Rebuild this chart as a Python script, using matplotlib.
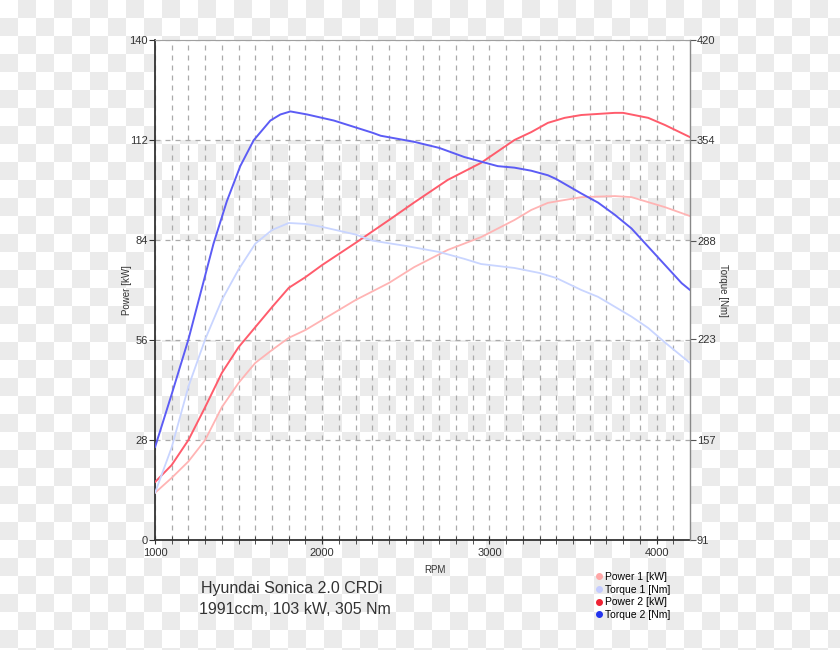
import numpy as np
import matplotlib
matplotlib.use("Agg")
import matplotlib.pyplot as plt
from matplotlib.colors import ListedColormap
from matplotlib.lines import Line2D

plt.rcParams['font.family'] = ['Liberation Sans', 'DejaVu Sans']

# -------------------------------
# Data
# -------------------------------

rpm_p1 = [1000, 1100, 1200, 1300, 1400, 1500, 1600, 1700, 1800, 1900, 2000, 2200, 2400,
          2550, 2750, 2950, 3150, 3250, 3350, 3450, 3550, 3750, 3850, 3950, 4050, 4200]
power1 = [13.2, 17.4, 22.0, 28.0, 37.2, 44.0, 49.6, 53.2, 56.6, 58.8, 61.6, 67.2, 72.0,
          76.4, 81.2, 84.8, 89.6, 92.4, 94.4, 95.2, 96.0, 96.3, 96.0, 94.6, 93.2, 90.7]

rpm_p2 = [1000, 1100, 1200, 1300, 1400, 1500, 1600, 1700, 1800, 1900, 2000, 2200, 2400,
          2550, 2750, 2950, 3150, 3250, 3350, 3450, 3550, 3750, 3800, 3950, 4050, 4200]
power2 = [16.2, 21.0, 28.0, 37.2, 46.8, 54.0, 59.6, 65.2, 70.6, 73.6, 77.0, 83.2, 89.6,
          94.5, 100.8, 105.6, 112.0, 114.2, 116.8, 118.2, 119.0, 119.6, 119.6, 118.2, 116.2, 112.8]

rpm_t1 = [1000, 1100, 1200, 1300, 1400, 1500, 1600, 1700, 1800, 1900, 2000, 2200, 2300,
          2500, 2700, 2850, 2950, 3150, 3300, 3400, 3550, 3650, 3850, 3950, 4050, 4200]
torque1 = [122, 152, 192, 223, 249, 269, 286, 295, 299.6, 299, 297, 292, 288,
           284.5, 280.5, 276, 272.6, 270, 266.7, 263.4, 255.5, 251, 238, 230.5, 221, 207.5]

rpm_t2 = [1000, 1100, 1200, 1350, 1430, 1510, 1590, 1690, 1750, 1810, 1910, 2070, 2300,
          2350, 2550, 2700, 2850, 2950, 3050, 3150, 3250, 3350, 3400, 3550, 3650, 3750,
          3850, 3950, 4050, 4150, 4200]
torque2 = [152, 187, 223, 286, 314, 337, 354, 367, 371, 373, 371, 367, 359,
           357, 353, 349, 343, 340, 337, 336, 334, 331, 328.5, 319, 313, 305,
           296, 284, 272, 260, 255.5]

power_ticks = [0, 28, 56, 84, 112, 140]
torque_ticks = [91, 157, 223, 288, 354, 420]
rpm_ticks = [1000, 2000, 3000, 4000]

labels = ['Power 1 [kW]', 'Torque 1 [Nm]', 'Power 2 [kW]', 'Torque 2 [Nm]']
line_colors = ['#ffb4b4', '#c9d5ff', '#ff5c6c', '#5c5cf5']
dot_colors = ['#ffa6a6', '#c4ccff', '#ee2233', '#2233ee']

# -------------------------------
# Figure + checkerboard backdrop
# -------------------------------

fig = plt.figure(figsize=(8.4, 6.5), dpi=100)

bg = fig.add_axes([0, 0, 1, 1], zorder=-10)
yy, xx = np.mgrid[0:650, 0:840]
checker = ((yy // 18) + (xx // 18)) % 2
bg.imshow(checker, cmap=ListedColormap(['#ffffff', '#ebebeb']), aspect='auto',
          interpolation='nearest', extent=(0, 840, 650, 0))
bg.axis('off')

ax = fig.add_axes([155 / 840, 110 / 650, 535 / 840, 500 / 650])
ax.set_facecolor('none')

# white bands inside the plot
for lo in [0, 56, 112]:
    ax.axhspan(lo, lo + 28, color='white', zorder=0, lw=0)

line_kw = dict(solid_joinstyle='round', solid_capstyle='round', zorder=3)
ax.plot(rpm_p1, power1, color=line_colors[0], lw=1.3, **line_kw)
ax.plot(rpm_p2, power2, color=line_colors[2], lw=1.4, **line_kw)

ax.set_xlim(1000, 4200)
ax.set_ylim(0, 140)
ax.set_xticks(rpm_ticks)
ax.set_xticks(np.arange(1100, 4200, 100), minor=True)
ax.set_yticks(power_ticks)

grid_style = dict(color='#aaaaaa', lw=0.9, ls=(0, (4, 4)))
ax.grid(True, which='both', axis='x', **grid_style)
ax.grid(True, which='major', axis='y', **grid_style)
ax.set_axisbelow(True)

for side in ['left', 'bottom']:
    ax.spines[side].set_color('#333333')
    ax.spines[side].set_linewidth(1.3)
ax.spines['top'].set_color('#a0a0a0')
ax.spines['top'].set_linewidth(0.8)
ax.spines['right'].set_visible(False)

ax.tick_params(axis='y', direction='out', length=4, color='#333333',
               labelsize=8, labelcolor='#333333', pad=1)
ax.tick_params(axis='x', which='both', direction='inout', length=6, color='#333333',
               labelsize=8, labelcolor='#333333', pad=3)

ax.set_ylabel('Power [kW]', fontsize=7, color='#333333', labelpad=-2)

# torque on right axis
ax2 = ax.twinx()
ax2.plot(rpm_t1, torque1, color=line_colors[1], lw=1.3, **line_kw)
ax2.plot(rpm_t2, torque2, color=line_colors[3], lw=1.4, **line_kw)
ax2.set_ylim(91, 420)
ax2.set_yticks(torque_ticks)
for side in ['left', 'bottom', 'top']:
    ax2.spines[side].set_visible(False)
ax2.spines['right'].set_color('#888888')
ax2.spines['right'].set_linewidth(1.0)
ax2.tick_params(axis='y', direction='out', length=4, color='#555555',
                labelsize=8, labelcolor='#333333', pad=1)
ax2.set_ylabel('Torque [Nm]', fontsize=7, color='#333333', rotation=270, labelpad=9)

# -------------------------------
# Texts + legend
# -------------------------------

fig.text(435 / 840, 1 - 570 / 650, 'RPM', fontsize=7, color='#333333',
         ha='center', va='center')
fig.text(292 / 840, 1 - 589 / 650, 'Hyundai Sonica 2.0 CRDi', fontsize=11.5,
         color='#333333', ha='center', va='center')
fig.text(295 / 840, 1 - 609 / 650, '1991ccm, 103 kW, 305 Nm', fontsize=11.5,
         color='#333333', ha='center', va='center')

handles = [Line2D([], [], ls='none', marker='o', markersize=4, color=c) for c in dot_colors]
fig.legend(handles, labels, loc='upper left', bbox_to_anchor=(595 / 840, 1 - 572 / 650),
           frameon=False, fontsize=7.5, handlelength=0.8, handletextpad=0.2,
           labelspacing=0.25, borderpad=0, borderaxespad=0)

fig.savefig('out.png', dpi=100)
